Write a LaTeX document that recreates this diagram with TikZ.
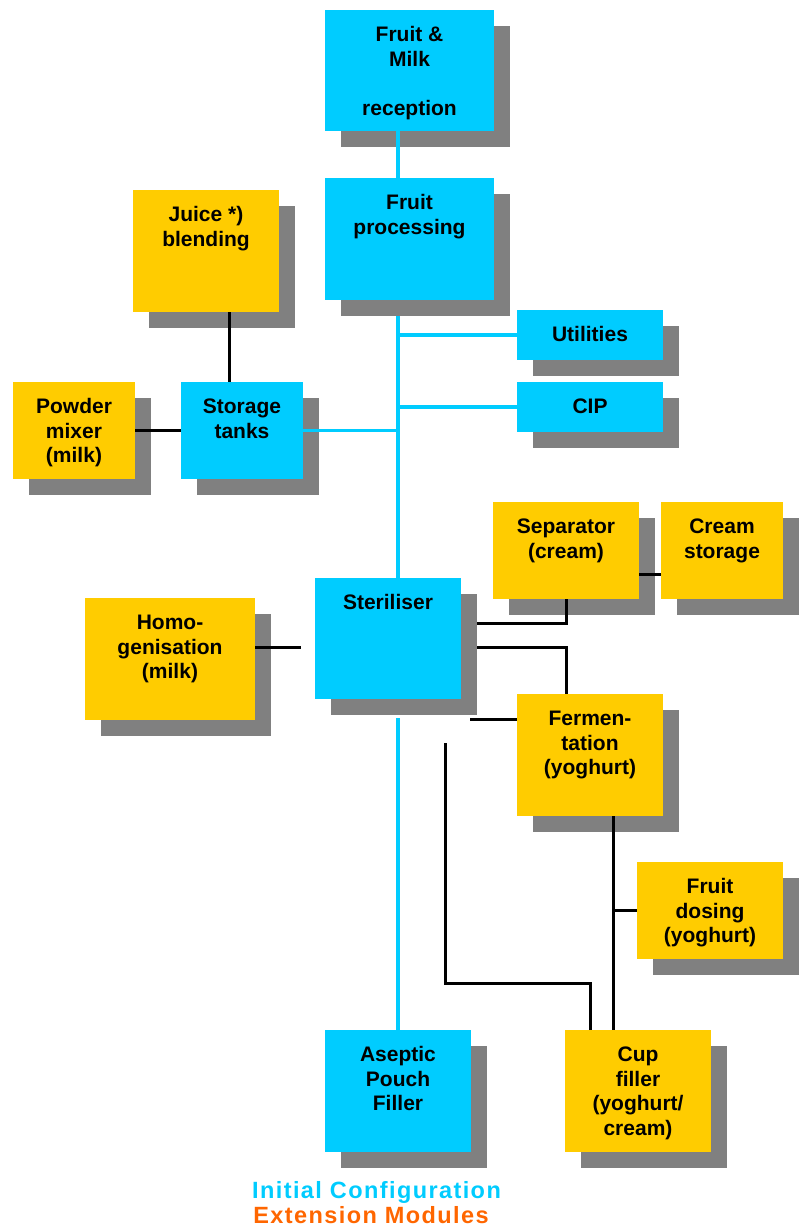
\documentclass[tikz,border=0pt]{standalone}
\usepackage{fontspec}
\setmainfont{Liberation Sans}
\newfontfamily\legfont[LetterSpace=6.0]{Liberation Sans}
\usetikzlibrary{shadows,calc}
\definecolor{cyanbox}{HTML}{00CCFF}
\definecolor{ylwbox}{HTML}{FFCC00}
\definecolor{shadowgray}{HTML}{808080}
\definecolor{orangetxt}{HTML}{FF6600}
\newcommand\boxtext[3]{\parbox[c][#2][t]{#1}{\centering\rule{0pt}{31.5pt}#3}}
\tikzset{
  basebox/.style={anchor=north west, inner sep=0pt, outer sep=0pt,
    font=\bfseries\fontsize{21pt}{24.5pt}\selectfont,
    drop shadow={shadow xshift=16pt, shadow yshift=-16pt, fill=shadowgray, opacity=1}},
  bbox/.style={basebox, fill=cyanbox},
  ybox/.style={basebox, fill=ylwbox},
  bline/.style={draw=cyanbox, line width=4.5pt},
  bthin/.style={draw=cyanbox, line width=3pt},
  kline/.style={draw=black, line width=3pt},
  legend/.style={anchor=base, inner sep=0pt, font=\legfont\bfseries\fontsize{23.5pt}{28pt}\selectfont}
}
\begin{document}
\begin{tikzpicture}[x=1pt, y=-1pt]
\useasboundingbox (0,0) rectangle (804,1227);
% boxes
\node[bbox] (recv) at (325,10) {\boxtext{169pt}{121pt}{Fruit \&\\Milk\\\mbox{}\\reception}};
\node[bbox] (proc) at (325,178) {\boxtext{169pt}{122pt}{Fruit\\processing}};
\node[ybox] (juice) at (133,190) {\boxtext{146pt}{122pt}{Juice *)\\blending}};
\node[ybox] (powder) at (13,382) {\boxtext{122pt}{97pt}{Powder\\mixer\\(milk)}};
\node[bbox] (storage) at (181,382) {\boxtext{122pt}{97pt}{Storage\\tanks}};
\node[bbox] (util) at (517,310) {\boxtext{146pt}{50pt}{Utilities}};
\node[bbox] (cip) at (517,382) {\boxtext{146pt}{50pt}{CIP}};
\node[ybox] (sep) at (493,502) {\boxtext{146pt}{97pt}{Separator\\(cream)}};
\node[ybox] (cream) at (661,502) {\boxtext{122pt}{97pt}{Cream\\storage}};
\node[bbox] (ster) at (315,578) {\boxtext{146pt}{121pt}{Steriliser}};
\node[ybox] (homo) at (85,598) {\boxtext{170pt}{122pt}{Homo-\\genisation\\(milk)}};
\node[ybox] (ferm) at (517,694) {\boxtext{146pt}{122pt}{Fermen-\\tation\\(yoghurt)}};
\node[ybox] (dose) at (637,862) {\boxtext{146pt}{97pt}{Fruit\\dosing\\(yoghurt)}};
\node[bbox] (asep) at (325,1030) {\boxtext{146pt}{122pt}{Aseptic\\Pouch\\Filler}};
\node[ybox] (cup) at (565,1030) {\boxtext{146pt}{122pt}{Cup\\filler\\(yoghurt/\\cream)}};
% legend
\node[legend, text=cyanbox] (leg1) at (376.5,1198) {Initial Configuration};
\node[legend, text=orangetxt] (leg2) at (371,1223) {Extension Modules};
% connectors
\coordinate (tx) at (398,0);
\coordinate (jx) at (229,0);
\draw[bline] (recv.south -| tx) -- (proc.north -| tx);
\draw[bline] ($(proc.south -| tx)+(0,16)$) -- (ster.north -| tx);
\draw[bline] ($(ster.south -| tx)+(0,19)$) -- (asep.north -| tx);
\draw[bline] ($(proc.south -| tx)+(0,16)$) |- (util.west);
\draw[bline] (tx |- cip.west) -- (cip.west);
\draw[bthin] (storage.east) -- (tx |- storage.east);
\draw[kline] (juice.south -| jx) -- (storage.north -| jx);
\draw[kline] (powder.east) -- (storage.west);
\coordinate (hx) at ($(homo.north east)+(46,49)$);
\draw[kline] ($(homo.north east)+(0,49)$) -- (hx);
\draw[kline] ($(sep.north east)+(0,72)$) -- ($(cream.north west)+(0,72)$);
\draw[kline] ($(ster.north east)+(16,45)$) -| ($(sep.south west)+(73,0)$);
\draw[kline] ($(ster.north east)+(16,69)$) -| ($(ferm.north west)+(49,0)$);
\draw[kline] ($(ster.south east)+(9,20)$) -- ($(ferm.north west)+(0,25)$);
\coordinate (c1) at ($(ster.south east)+(-16,44)$);
\coordinate (c2) at ($(ster.south east)+(-16,284)$);
\draw[kline] (c1) -- (c2) -| ($(cup.north west)+(25,0)$);
\coordinate (fx) at ($(ferm.south west)+(96,0)$);
\draw[kline] (fx) -- ($(cup.north west)+(48,0)$);
\draw[kline] (fx |- dose.west) -- (dose.west);
\end{tikzpicture}
\end{document}
